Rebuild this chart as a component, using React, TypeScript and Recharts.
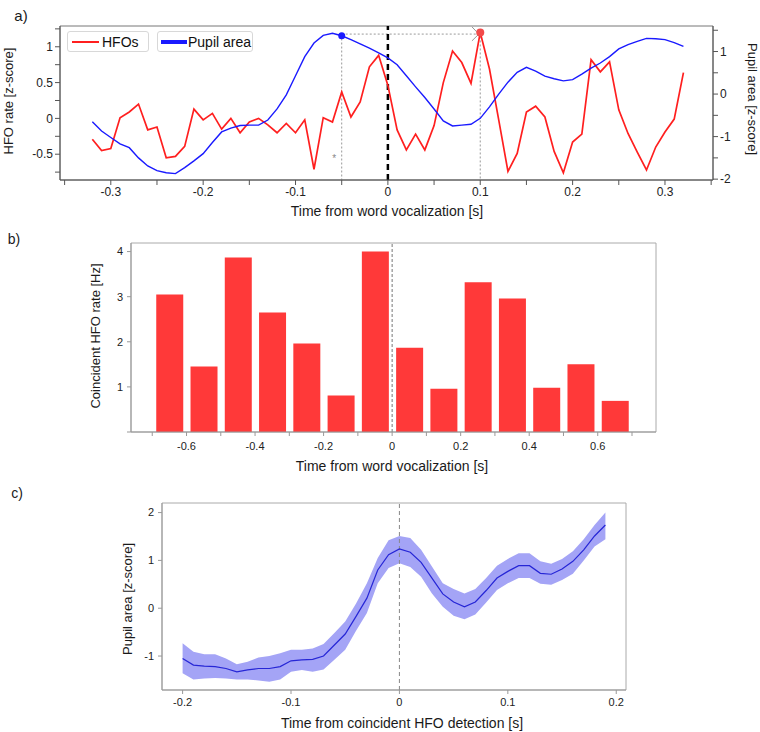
import React from 'react';
import {
  ComposedChart,
  Line,
  Bar,
  Area,
  XAxis,
  YAxis,
  ReferenceLine,
  ReferenceDot,
  ReferenceArea,
} from 'recharts';

const FONT = '"Liberation Sans", Arial, sans-serif';

// ---- panel a: HFO rate vs pupil area around word vocalization ----
const timeA = [
  -0.32, -0.31, -0.3, -0.29, -0.28, -0.27, -0.26, -0.25, -0.24, -0.23, -0.22,
  -0.21, -0.2, -0.19, -0.18, -0.17, -0.16, -0.15, -0.14, -0.13, -0.12, -0.11,
  -0.1, -0.09, -0.08, -0.07, -0.06, -0.05, -0.04, -0.03, -0.02, -0.01, 0,
  0.01, 0.02, 0.03, 0.04, 0.05, 0.06, 0.07, 0.08, 0.09, 0.1, 0.11, 0.12, 0.13,
  0.14, 0.15, 0.16, 0.17, 0.18, 0.19, 0.2, 0.21, 0.22, 0.23, 0.24, 0.25, 0.26,
  0.27, 0.28, 0.29, 0.3, 0.31, 0.32,
];
const hfoRate = [
  -0.29, -0.45, -0.42, 0.01, 0.09, 0.2, -0.16, -0.12, -0.55, -0.53, -0.39,
  0.13, -0.02, 0.07, -0.15, 0, -0.2, -0.05, 0, -0.09, -0.2, -0.07, -0.2, -0.02,
  -0.71, 0.01, -0.05, 0.37, 0.02, 0.23, 0.72, 0.88, 0.46, -0.16, -0.44, -0.22,
  -0.44, -0.1, 0.5, 0.94, 0.78, 0.49, 1.2, 0.69, -0.02, -0.74, -0.49, 0.09,
  0.17, 0.02, -0.46, -0.76, -0.33, -0.22, 0.82, 0.65, 0.79, 0.12, -0.21, -0.47,
  -0.72, -0.4, -0.19, -0.01, 0.64,
];
const pupilA = [
  -0.65, -0.87, -1.02, -1.17, -1.26, -1.5, -1.69, -1.8, -1.85, -1.87, -1.73,
  -1.57, -1.4, -1.14, -0.89, -0.8, -0.74, -0.73, -0.73, -0.61, -0.35, -0.02,
  0.43, 0.88, 1.2, 1.38, 1.43, 1.37, 1.28, 1.18, 1.08, 0.97, 0.85, 0.69, 0.43,
  0.17, -0.08, -0.35, -0.63, -0.75, -0.73, -0.71, -0.57, -0.3, 0, 0.28, 0.51,
  0.63, 0.54, 0.42, 0.36, 0.31, 0.34, 0.47, 0.61, 0.73, 0.88, 1.06, 1.16, 1.24,
  1.31, 1.3, 1.28, 1.21, 1.12,
];
const xTicksA = [-0.35, -0.3, -0.25, -0.2, -0.15, -0.1, -0.05, 0, 0.05, 0.1, 0.15, 0.2, 0.25, 0.3, 0.35];
const hfoTicks = [-0.75, -0.5, -0.25, 0, 0.25, 0.5, 0.75, 1, 1.25];
const pupilTicks = [-2, -1.5, -1, -0.5, 0, 0.5, 1, 1.5];

// ---- panel b: coincident HFO rate histogram ----
const binCenters = [-0.65, -0.55, -0.45, -0.35, -0.25, -0.15, -0.05, 0.05, 0.15, 0.25, 0.35, 0.45, 0.55, 0.65];
const coincidentRate = [3.05, 1.45, 3.87, 2.65, 1.96, 0.81, 4.0, 1.87, 0.96, 3.32, 2.96, 0.98, 1.5, 0.69];
const xTicksB = [-0.7, -0.6, -0.5, -0.4, -0.3, -0.2, -0.1, 0, 0.1, 0.2, 0.3, 0.4, 0.5, 0.6, 0.7];
const yTicksB = [0, 1, 2, 3, 4];

// ---- panel c: pupil area around coincident HFO detection ----
const timeC = [
  -0.2, -0.19, -0.18, -0.17, -0.16, -0.15, -0.14, -0.13, -0.12, -0.11, -0.1,
  -0.09, -0.08, -0.07, -0.06, -0.05, -0.04, -0.03, -0.02, -0.01, 0, 0.01, 0.02,
  0.03, 0.04, 0.05, 0.06, 0.07, 0.08, 0.09, 0.1, 0.11, 0.12, 0.13, 0.14, 0.15,
  0.16, 0.17, 0.18, 0.19,
];
const pupilMean = [
  -1.05, -1.19, -1.21, -1.22, -1.26, -1.33, -1.29, -1.26, -1.26, -1.22, -1.1,
  -1.08, -1.07, -1.0, -0.77, -0.54, -0.17, 0.21, 0.8, 1.12, 1.24, 1.17, 0.96,
  0.63, 0.3, 0.13, 0.03, 0.13, 0.37, 0.63, 0.77, 0.89, 0.89, 0.73, 0.71, 0.82,
  0.98, 1.22, 1.51, 1.74,
];
const pupilLow = [
  -1.36, -1.49, -1.47, -1.46, -1.47, -1.49, -1.49, -1.51, -1.54, -1.49, -1.33,
  -1.29, -1.33, -1.28, -1.08, -0.87, -0.47, -0.1, 0.52, 0.84, 0.94, 0.86, 0.66,
  0.31, 0.03, -0.16, -0.23, -0.13, 0.12, 0.38, 0.52, 0.63, 0.63, 0.51, 0.49,
  0.59, 0.72, 1.0, 1.29, 1.44,
];
const pupilHigh = [
  -0.73, -0.91, -0.96, -0.96, -1.05, -1.17, -1.12, -1.03, -1.0, -0.94, -0.87,
  -0.87, -0.84, -0.75, -0.52, -0.28, 0.1, 0.52, 1.05, 1.42, 1.51, 1.47, 1.22,
  0.87, 0.52, 0.4, 0.31, 0.4, 0.63, 0.89, 1.03, 1.15, 1.15, 0.98, 0.93, 1.03,
  1.19, 1.44, 1.74, 2.0,
];
const xTicksC = [-0.2, -0.1, 0, 0.1, 0.2];
const yTicksC = [-1, 0, 1, 2];

const dataA = timeA.map((t, i) => ({ t, hfo: hfoRate[i], pupil: pupilA[i] }));
const dataB = binCenters.map((t, i) => ({ t, rate: coincidentRate[i] }));
const dataC = timeC.map((t, i) => ({
  t,
  mean: pupilMean[i],
  band: [pupilLow[i], pupilHigh[i]],
}));

const X_A: [number, number] = [-0.355, 0.352];
const HFO_DOM: [number, number] = [-0.86, 1.29];
const PUPIL_DOM: [number, number] = [-2.02, 1.6];
const X_B: [number, number] = [-0.762, 0.77];
const Y_B: [number, number] = [0, 4.19];
const X_C: [number, number] = [-0.219, 0.209];
const Y_C: [number, number] = [-1.71, 2.2];

const fmt = (v: number) => String(Math.round(v * 10) / 10);

const Txt: React.FC<{ x: number; y: number; size?: number; rot?: number; children: React.ReactNode }> = ({
  x,
  y,
  size = 14,
  rot = 0,
  children,
}) => (
  <div
    style={{
      position: 'absolute',
      left: x,
      top: y,
      transform: `translate(-50%, -50%) rotate(${rot}deg)`,
      whiteSpace: 'nowrap',
      fontSize: size,
      color: '#1a1a1a',
      lineHeight: 1,
    }}
  >
    {children}
  </div>
);

const legendBox: React.CSSProperties = {
  position: 'absolute',
  top: 31,
  height: 21,
  border: '1px solid #d8d8d8',
  borderRadius: 3,
  background: '#fff',
  display: 'flex',
  alignItems: 'center',
  fontSize: 14,
  color: '#111',
  boxSizing: 'border-box',
  whiteSpace: 'nowrap',
};

const App: React.FC = () => {
  return (
    <div
      style={{
        position: 'absolute',
        left: 0,
        top: 0,
        width: 760,
        height: 732,
        background: '#fff',
        fontFamily: FONT,
        overflow: 'hidden',
      }}
    >
      {/* a) */}
      <div style={{ position: 'absolute', left: 0, top: 0 }}>
        <ComposedChart width={760} height={225} data={dataA} margin={{ top: 26, right: 0, bottom: 0, left: 0 }}>
          <XAxis
            dataKey="t"
            type="number"
            domain={X_A}
            allowDataOverflow
            ticks={xTicksA}
            tickFormatter={(v: number) => (Math.round(v * 100) % 10 === 0 ? fmt(v) : '')}
            height={45}
            tickSize={5}
            stroke="#555"
            tick={{ fill: '#222', fontSize: 12, fontFamily: FONT }}
          />
          <YAxis
            yAxisId="hfo"
            type="number"
            domain={HFO_DOM}
            allowDataOverflow
            ticks={hfoTicks}
            tickFormatter={(v: number) => (Math.abs(Math.round(v * 4)) % 2 === 0 ? String(v) : '')}
            width={60}
            tickSize={5}
            stroke="#555"
            tick={{ fill: '#222', fontSize: 12, fontFamily: FONT }}
          />
          <YAxis
            yAxisId="pupil"
            orientation="right"
            type="number"
            domain={PUPIL_DOM}
            allowDataOverflow
            ticks={pupilTicks}
            tickFormatter={(v: number) => (Number.isInteger(v) ? String(v) : '')}
            width={47}
            tickSize={5}
            stroke="#555"
            tick={{ fill: '#222', fontSize: 12, fontFamily: FONT }}
          />
          <ReferenceArea
            yAxisId="hfo"
            x1={X_A[0]}
            x2={X_A[1]}
            y1={HFO_DOM[0]}
            y2={HFO_DOM[1]}
            fill="none"
            stroke="#777"
            strokeOpacity={1}
          />
          <ReferenceLine
            yAxisId="pupil"
            segment={[{ x: -0.05, y: 1.4 }, { x: -0.05, y: PUPIL_DOM[0] }]}
            stroke="#999"
            strokeDasharray="2 2"
          />
          <ReferenceLine
            yAxisId="pupil"
            segment={[{ x: -0.05, y: 1.41 }, { x: 0.0985, y: 1.41 }]}
            stroke="#999"
            strokeDasharray="2 2"
          />
          <ReferenceLine yAxisId="pupil" segment={[{ x: 0.091, y: 1.58 }, { x: 0.0985, y: 1.41 }]} stroke="#999" />
          <ReferenceLine yAxisId="pupil" segment={[{ x: 0.091, y: 1.25 }, { x: 0.0985, y: 1.41 }]} stroke="#999" />
          <ReferenceLine
            yAxisId="hfo"
            segment={[{ x: 0.1, y: 1.2 }, { x: 0.1, y: HFO_DOM[0] }]}
            stroke="#999"
            strokeDasharray="2 2"
          />
          <ReferenceLine yAxisId="hfo" x={0} stroke="#000" strokeWidth={2.5} strokeDasharray="6 4" />
          <Line
            yAxisId="hfo"
            dataKey="hfo"
            stroke="#ff1f1f"
            strokeWidth={1.7}
            dot={false}
            isAnimationActive={false}
          />
          <Line
            yAxisId="pupil"
            dataKey="pupil"
            stroke="#1a1aff"
            strokeWidth={1.4}
            dot={false}
            isAnimationActive={false}
          />
          <ReferenceDot yAxisId="pupil" x={-0.05} y={1.37} r={3.5} fill="#1a1aff" stroke="none" />
          <ReferenceDot yAxisId="hfo" x={0.1} y={1.2} r={4} fill="#f24a4a" stroke="none" />
          <ReferenceDot
            yAxisId="hfo"
            x={-0.058}
            y={-0.55}
            r={0}
            shape={(p: any) => (
              <text x={p.cx} y={p.cy + 4} textAnchor="middle" fontSize={10} fill="#888">
                *
              </text>
            )}
          />
        </ComposedChart>
        <div style={{ ...legendBox, left: 67, width: 82 }}>
          <div style={{ width: 27, height: 2, background: '#ff1f1f', marginLeft: 4, marginRight: 3 }} />
          <span>HFOs</span>
        </div>
        <div style={{ ...legendBox, left: 157, width: 96 }}>
          <div style={{ width: 26, height: 4, background: '#1a1aff', marginLeft: 3, marginRight: 1, flexShrink: 0 }} />
          <span>Pupil area</span>
        </div>
      </div>
      <Txt x={21} y={15} size={15}>a)</Txt>
      <Txt x={8} y={101} size={13} rot={-90}>HFO rate [z-score]</Txt>
      <Txt x={752} y={99} size={13} rot={90}>Pupil area [z-score]</Txt>
      <Txt x={387} y={211} size={14}>Time from word vocalization [s]</Txt>

      {/* b) */}
      <div style={{ position: 'absolute', left: 0, top: 225 }}>
        <ComposedChart width={760} height={255} data={dataB} margin={{ top: 18, right: 104, bottom: 0, left: 0 }}>
          <XAxis
            dataKey="t"
            type="number"
            domain={X_B}
            allowDataOverflow
            ticks={xTicksB}
            tickFormatter={(v: number) => (Math.abs(Math.round(v * 10)) % 2 === 0 ? fmt(v) : '')}
            height={48}
            tickSize={4}
            tickMargin={6}
            stroke="#999"
            tick={{ fill: '#222', fontSize: 11, fontFamily: FONT }}
          />
          <YAxis
            type="number"
            domain={Y_B}
            allowDataOverflow
            ticks={yTicksB}
            tickFormatter={(v: number) => (v === 0 ? '' : String(v))}
            width={131}
            tickSize={4}
            tickMargin={4}
            stroke="#999"
            tick={{ fill: '#222', fontSize: 11, fontFamily: FONT }}
          />
          <ReferenceArea x1={X_B[0]} x2={X_B[1]} y1={Y_B[0]} y2={Y_B[1]} fill="none" stroke="#aaa" strokeOpacity={1} />
          <Bar dataKey="rate" fill="#ff3939" barSize={27} isAnimationActive={false} />
          <ReferenceLine x={0} stroke="#777" strokeDasharray="3 2" />
        </ComposedChart>
      </div>
      <Txt x={14} y={239} size={14}>b)</Txt>
      <Txt x={95} y={336} size={13} rot={-90}>Coincident HFO rate [Hz]</Txt>
      <Txt x={392} y={466} size={14}>Time from word vocalization [s]</Txt>

      {/* c) */}
      <div style={{ position: 'absolute', left: 0, top: 485 }}>
        <ComposedChart width={760} height={247} data={dataC} margin={{ top: 18, right: 134, bottom: 0, left: 0 }}>
          <XAxis
            dataKey="t"
            type="number"
            domain={X_C}
            allowDataOverflow
            ticks={xTicksC}
            tickFormatter={fmt}
            height={42}
            tickSize={4}
            tickMargin={4}
            stroke="#999"
            tick={{ fill: '#222', fontSize: 11, fontFamily: FONT }}
          />
          <YAxis
            type="number"
            domain={Y_C}
            allowDataOverflow
            ticks={yTicksC}
            width={162}
            tickSize={4}
            tickMargin={4}
            stroke="#999"
            tick={{ fill: '#222', fontSize: 11, fontFamily: FONT }}
          />
          <ReferenceArea x1={X_C[0]} x2={X_C[1]} y1={Y_C[0]} y2={Y_C[1]} fill="none" stroke="#aaa" strokeOpacity={1} />
          <Area
            dataKey="band"
            stroke="none"
            fill="#a4a4f6"
            fillOpacity={1}
            isAnimationActive={false}
          />
          <ReferenceLine x={0} stroke="#888" strokeDasharray="4 3" />
          <Line dataKey="mean" stroke="#2626d6" strokeWidth={1.2} dot={false} isAnimationActive={false} />
        </ComposedChart>
      </div>
      <Txt x={17} y={493} size={14}>c)</Txt>
      <Txt x={127} y={599} size={13} rot={-90}>Pupil area [z-score]</Txt>
      <Txt x={402} y={723} size={14}>Time from coincident HFO detection [s]</Txt>
    </div>
  );
};

export default App;
